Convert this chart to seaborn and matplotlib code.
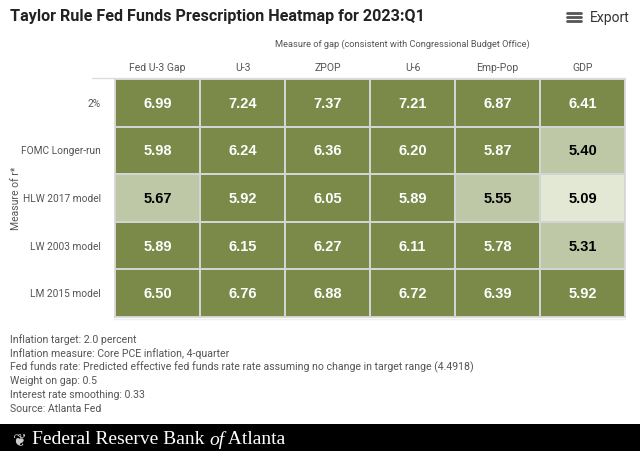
import numpy as np
import pandas as pd
import matplotlib
matplotlib.use("Agg")
import matplotlib.pyplot as plt
from matplotlib.colors import ListedColormap, BoundaryNorm
import seaborn as sns

columns = ["Fed U-3 Gap", "U-3", "ZPOP", "U-6", "Emp-Pop", "GDP"]
rows = ["2%", "FOMC Longer-run", "HLW 2017 model", "LW 2003 model", "LM 2015 model"]
v_2pct = [6.99, 7.24, 7.37, 7.21, 6.87, 6.41]
v_fomc = [5.98, 6.24, 6.36, 6.20, 5.87, 5.40]
v_hlw = [5.67, 5.92, 6.05, 5.89, 5.55, 5.09]
v_lw = [5.89, 6.15, 6.27, 6.11, 5.78, 5.31]
v_lm = [6.50, 6.76, 6.88, 6.72, 6.39, 5.92]

df = pd.DataFrame([v_2pct, v_fomc, v_hlw, v_lw, v_lm], index=rows, columns=columns)

sns.set_theme(style="white")
plt.rcParams['font.family'] = ['Roboto', 'DejaVu Sans']

fig = plt.figure(figsize=(6.4, 4.52), dpi=100)
ax = fig.add_axes([115/640, 1-318/452, 510/640, 238/452])

cmap = ListedColormap(["#e3e8d5", "#bfc8a6", "#7b8a48"])
norm = BoundaryNorm([0, 5.2, 5.7, 10], cmap.N)

sns.heatmap(df, ax=ax, cmap=cmap, norm=norm, cbar=False, linewidths=1.2,
            linecolor="#d4d4d4", annot=False)

for i, r in enumerate(rows):
    for j, c in enumerate(columns):
        v = df.loc[r, c]
        col = "white" if v >= 5.7 else "black"
        ax.text(j + 0.5, i + 0.5, f"{v:.2f}", ha="center", va="center",
                color=col, fontsize=10.5, fontweight="bold",
                family=['Liberation Sans', 'DejaVu Sans'])

ax.xaxis.tick_top()
ax.set_xticklabels(columns, rotation=0, fontsize=7.5, color="#555555")
ax.set_yticklabels(rows, rotation=0, fontsize=7.3, color="#555555")
ax.tick_params(axis="y", length=0, pad=10)
ax.tick_params(axis="x", length=0, pad=5)
ax.set_xlabel("")
ax.set_ylabel("")
for s in ax.spines.values():
    s.set_visible(True)
    s.set_color("#d4d4d4")
    s.set_linewidth(1.2)

fig.add_artist(plt.Line2D([92/640, 625/640], [1-79/452, 1-79/452], color="#dddddd", lw=1))
fig.add_artist(plt.Line2D([114/640, 625/640], [1-320/452, 1-320/452], color="#eeeeee", lw=1))

fig.text(10/640, 1-17/452, "Taylor Rule Fed Funds Prescription Heatmap for 2023:Q1",
         fontsize=11.6, fontweight="bold", color="#222222", va="center", ha="left")
fig.text(402/640, 1-44/452, "Measure of gap (consistent with Congressional Budget Office)",
         fontsize=6.7, color="#555555", va="center", ha="center")
fig.text(16/640, 1-198/452, "Measure of r*", rotation=90, fontsize=7.5, color="#555555",
         va="center", ha="center")

fig.text(630/640, 1-18/452, "Export", fontsize=10, color="#333333", ha="right", va="center")
for dy in (-4, 0, 4):
    fig.add_artist(plt.Line2D([567/640, 581/640], [1-(18+dy)/452]*2, color="#555555", lw=2))

notes = [
    "Inflation target: 2.0 percent",
    "Inflation measure: Core PCE inflation, 4-quarter",
    "Fed funds rate: Predicted effective fed funds rate rate assuming no change in target range (4.4918)",
    "Weight on gap: 0.5",
    "Interest rate smoothing: 0.33",
    "Source: Atlanta Fed",
]
for k, n in enumerate(notes):
    fig.text(10/640, 1-(340 + 13.8*k)/452, n, fontsize=7.6, color="#555555", va="center", ha="left")

fig.add_artist(plt.Rectangle((0, 0), 1, 27/452, transform=fig.transFigure,
                             facecolor="black", edgecolor="none"))
serif = ["Liberation Serif", "DejaVu Serif"]
renderer = fig.canvas.get_renderer()
x = 32/640
for part, st in (("Federal Reserve Bank ", "normal"), ("of", "italic"), (" Atlanta", "normal")):
    t = fig.text(x, 1-440/452, part, fontsize=14, color="white", style=st,
                 family=serif, va="center", ha="left")
    bb = t.get_window_extent(renderer)
    x = bb.x1 / fig.bbox.width
fig.text(20/640, 1-440/452, "\u2766", fontsize=12, color="#cccccc",
         family=["DejaVu Sans"], va="center", ha="center")

fig.savefig("out.png", dpi=100)
